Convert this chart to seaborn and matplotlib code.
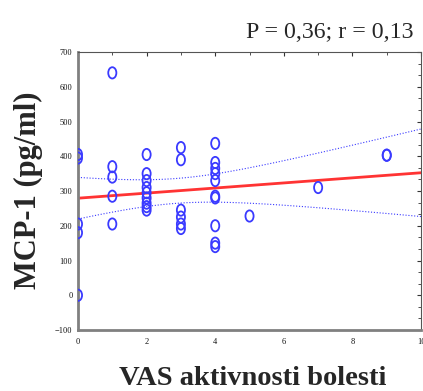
import numpy as np
import pandas as pd
import matplotlib
matplotlib.use("Agg")
import matplotlib.pyplot as plt
import matplotlib.path as mpath
from matplotlib.markers import MarkerStyle
from matplotlib.ticker import MultipleLocator
import seaborn as sns

# ---- data ----
vas = [0, 0, 0, 0, 0,
       1, 1, 1, 1, 1,
       2, 2, 2, 2, 2, 2, 2, 2, 2,
       3, 3, 3, 3, 3, 3,
       4, 4, 4, 4, 4, 4, 4, 4, 4, 4,
       5, 7, 9, 9]
mcp1 = [405, 395, 205, 180, 0,
        640, 370, 340, 285, 205,
        405, 350, 330, 310, 295, 280, 265, 255, 245,
        425, 390, 245, 225, 205, 192,
        437, 382, 365, 350, 330, 285, 280, 200, 150, 140,
        228, 310, 403, 403]
x_ticks = [0, 2, 4, 6, 8, 10]
y_ticks = [-100, 0, 100, 200, 300, 400, 500, 600, 700]
title_text = "P = 0,36; r = 0,13"
x_label = "VAS aktivnosti bolesti"
y_label = "MCP-1 (pg/ml)"
t_crit = 2.03  # 95% two-sided t for n-2 df

df = pd.DataFrame({"vas": vas, "mcp1": mcp1})

# OLS fit and 95% confidence band for the mean
x = np.asarray(vas, float)
y = np.asarray(mcp1, float)
n = len(x)
b1, b0 = np.polyfit(x, y, 1)
resid = y - (b0 + b1 * x)
s = np.sqrt(np.sum(resid ** 2) / (n - 2))
sxx = np.sum((x - x.mean()) ** 2)
xg = np.linspace(0, 10, 101)
yg = b0 + b1 * xg
hw = t_crit * s * np.sqrt(1 / n + (xg - x.mean()) ** 2 / sxx)
fit = pd.DataFrame({"x": xg, "fit": yg, "lo": yg - hw, "hi": yg + hw})

sns.set_style("white")
plt.rcParams["font.family"] = ["Liberation Serif", "DejaVu Serif"]

fig = plt.figure(figsize=(4.23, 3.91), dpi=100)
ax = fig.add_axes([0.1844, 0.156, 0.811, 0.711])

blue = "#3a3aff"
circ = mpath.Path.unit_circle()
ell = mpath.Path(circ.vertices * np.array([0.72, 1.0]), circ.codes)

sns.lineplot(data=fit, x="x", y="hi", ax=ax, color=blue, lw=0.8,
             linestyle=(0, (1, 1.6)))
sns.lineplot(data=fit, x="x", y="lo", ax=ax, color=blue, lw=0.8,
             linestyle=(0, (1, 1.6)))
sns.lineplot(data=fit, x="x", y="fit", ax=ax, color="#ff3333", lw=2.0)
sns.scatterplot(data=df, x="vas", y="mcp1", ax=ax, marker=MarkerStyle(ell),
                s=66, facecolor="none", edgecolor=blue, linewidth=1.3,
                zorder=5)

ax.set_xlim(0, 10)
ax.set_ylim(-100, 700)
ax.set_xticks(x_ticks)
ax.set_yticks(y_ticks)
ax.xaxis.set_minor_locator(MultipleLocator(1))
ax.yaxis.set_minor_locator(MultipleLocator(100 / 3))
ax.tick_params(which="both", direction="in", top=True, right=True,
               labelsize=6, colors="#333333", labelcolor="#111111")
ax.tick_params(axis="x", which="major", pad=5.5)
ax.tick_params(axis="y", which="major", pad=4)
ax.tick_params(which="major", length=3, width=0.8)
ax.tick_params(which="minor", length=2, width=0.6)
ax.tick_params(axis="y", which="minor", left=False)
ax.tick_params(axis="x", which="minor", bottom=False)

for side in ["left", "bottom"]:
    ax.spines[side].set_color("#808080")
    ax.spines[side].set_linewidth(2.0)
for side in ["top", "right"]:
    ax.spines[side].set_color("#555555")
    ax.spines[side].set_linewidth(0.8)

ax.set_xlabel("")
ax.set_ylabel("")
fig.text(253, 391 - 385, x_label, transform=None, ha="center",
         va="baseline", fontsize=20.5, fontweight="bold")
fig.text(28, 391 - 190, y_label, transform=None, ha="center",
         va="center", rotation=90, fontsize=22, fontweight="bold")
fig.text(413, 391 - 38, title_text, transform=None, ha="right",
         va="baseline", fontsize=17.2)

fig.savefig("out.png", dpi=100, facecolor="white")
